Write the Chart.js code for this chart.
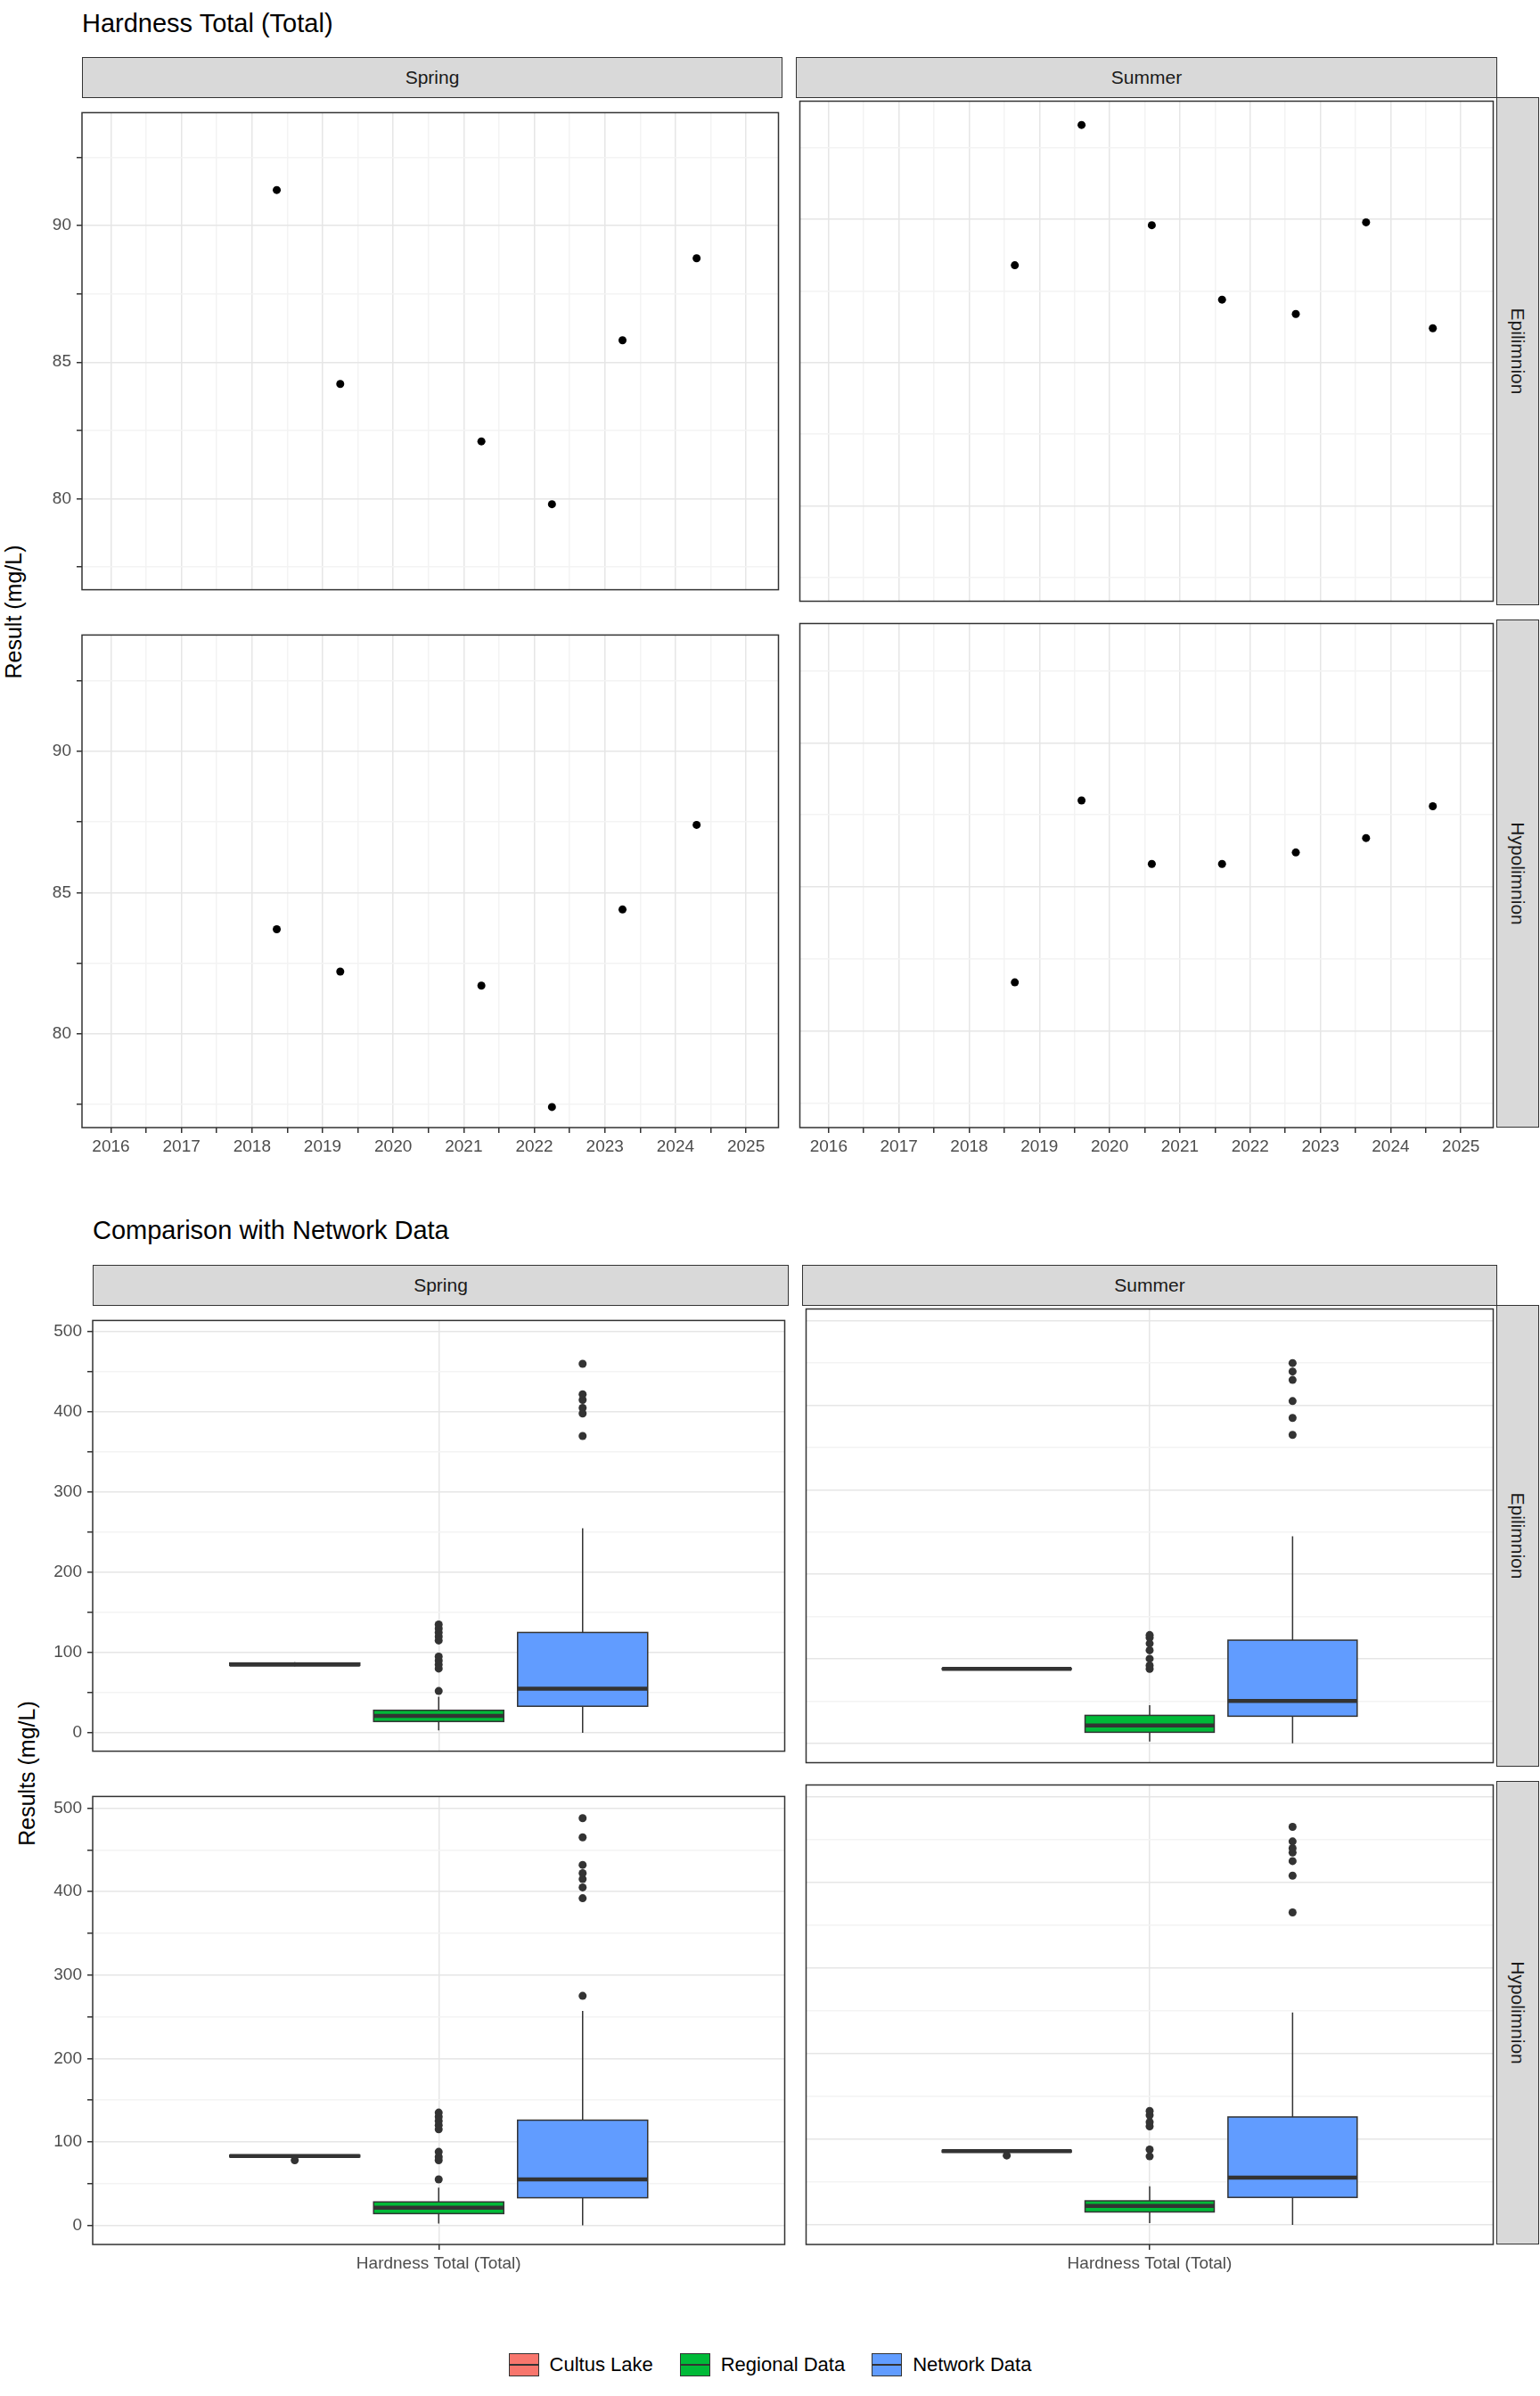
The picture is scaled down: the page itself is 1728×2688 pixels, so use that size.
<!DOCTYPE html>
<html><head><meta charset="utf-8">
<script src="https://cdn.jsdelivr.net/npm/chart.js@4"></script>
<style>
body{margin:0;background:#fff;font-family:"Liberation Sans",Arial,sans-serif;}
#root{position:relative;width:1728px;height:2688px;}
.abs{position:absolute;}
.strip{position:absolute;background:#D9D9D9;border:1.5px solid #333;box-sizing:border-box;display:flex;align-items:center;justify-content:center;font-size:21px;color:#1a1a1a;}
.t{position:absolute;font-size:29px;color:#000;}
.yl{position:absolute;font-size:25px;transform:rotate(-90deg);transform-origin:center;white-space:nowrap;}
</style></head><body><div id="root"></div>
<script>
// ---------- Data ----------
const seasons = ["Spring","Summer"];
const layers = ["Epilimnion","Hypolimnion"];
const yearTicks = [2016,2017,2018,2019,2020,2021,2022,2023,2024,2025];
const springEpiX = [2018.35,2019.25,2021.25,2022.25,2023.25,2024.3];
const springEpiY = [91.3,84.2,82.1,79.8,85.8,88.8];
const summerEpiX = [2018.65,2019.6,2020.6,2021.6,2022.65,2023.65,2024.6];
const summerEpiY = [88.4,93.3,89.8,87.2,86.7,89.9,86.2];
const springHypoX = [2018.35,2019.25,2021.25,2022.25,2023.25,2024.3];
const springHypoY = [83.7,82.2,81.7,77.4,84.4,87.4];
const summerHypoX = [2018.65,2019.6,2020.6,2021.6,2022.65,2023.65,2024.6];
const summerHypoY = [81.7,88.0,85.8,85.8,86.2,86.7,87.8];

const groups = ["Cultus Lake","Regional Data","Network Data"];
const groupColors = ["#F8766D","#00BA38","#619CFF"];
// box stats: [whiskerLow, q1, median, q3, whiskerHigh]
const springEpiBox = [[83,84,85,87,88],[3,14,21,28,45],[0,33,55,125,255]];
const springEpiOut = [[],[52,80,85,90,95,115,120,125,130,135],[370,398,405,415,422,460]];
const summerEpiBox = [[87,87.5,88,88.5,89],[2,13,21,33,45],[0,32,50,122,245]];
const summerEpiOut = [[],[88,92,100,110,118,125,128],[365,385,405,430,440,450]];
const springHypoBox = [[81,82,83,84,85],[2,14,21,28,45],[0,33,55,126,257]];
const springHypoOut = [[78],[55,78,82,88,115,120,125,130,135],[275,392,405,415,422,432,465,488]];
const summerHypoBox = [[84,85,86,87,87],[2,15,22,28,45],[0,32,55,126,248]];
const summerHypoOut = [[81],[80,88,115,120,128,133],[365,408,425,435,440,448,465]];
const boxCategory = "Hardness Total (Total)";

// ---------- Layout ----------
const root = document.getElementById('root');
function el(cls, css, txt){const d=document.createElement('div');d.className=cls;Object.assign(d.style,css);if(txt!==undefined)d.textContent=txt;root.appendChild(d);return d;}
const tickFont = {family:"Liberation Sans", size:19};
const borderPlugin = {id:'bord', afterDraw(c){const a=c.chartArea,x=c.ctx;x.save();x.strokeStyle='#333';x.lineWidth=1.5;x.strokeRect(a.left,a.top,a.right-a.left,a.bottom-a.top);x.restore();}};

function panel(left, top, w, h, showY, showX, cfgFn){
  const yW = showY?62:0, xH = showX?40:0;
  const d = el('abs',{left:(left-yW)+'px',top:top+'px',width:(w+yW)+'px',height:(h+xH)+'px'});
  const cv = document.createElement('canvas'); cv.width=w+yW; cv.height=h+xH; d.appendChild(cv);
  const cfg = cfgFn(showY, showX, yW, xH);
  cfg.options.responsive=false; cfg.options.animation=false; cfg.options.devicePixelRatio=1;
  cfg.options.layout={padding:0};
  cfg.options.plugins=Object.assign({legend:{display:false},tooltip:{enabled:false}},cfg.options.plugins||{});
  cfg.plugins=(cfg.plugins||[]).concat([borderPlugin]);
  new Chart(cv,cfg);
}
function yScale(min,max,step,major,showY,yW,extra){
  return Object.assign({type:'linear',min,max,
    afterBuildTicks(s){const t=[];for(let v=Math.ceil(min/step)*step;v<=max+1e-9;v+=step)t.push({value:+v.toFixed(4)});s.ticks=t;},
    afterFit(s){s.width=yW;},
    ticks:{display:showY,font:tickFont,color:'#4D4D4D',padding:6,callback:(v)=>Math.abs(v/major-Math.round(v/major))<1e-6?v:''},
    grid:{color:(c)=>Math.abs(c.tick.value/major-Math.round(c.tick.value/major))<1e-6?'#E6E6E6':'#F3F3F3',lineWidth:1.5,tickLength:showY?6:0,tickColor:'#333'},
    border:{display:false}},extra||{});
}

// ---------- Top chart ----------
el('t',{left:'92px',top:'10px'},'Hardness Total (Total)');
el('yl',{left:'-90px',top:'672px',width:'210px',textAlign:'center'},'Result (mg/L)');
const topCols=[[92,786],[893,787]], topRows=[[109,570],[695,570]];
const topData=[[[springEpiX,springEpiY],[summerEpiX,summerEpiY]],[[springHypoX,springHypoY],[summerHypoX,summerHypoY]]];
seasons.forEach((s,i)=>el('strip',{left:topCols[i][0]+'px',top:'64px',width:topCols[i][1]+'px',height:'46px'},s));
layers.forEach((l,j)=>{const st=el('strip',{left:'1679px',top:topRows[j][0]+'px',width:'48px',height:topRows[j][1]+'px'});st.innerHTML='<span style="transform:rotate(90deg);white-space:nowrap">'+l+'</span>';});
for(let r=0;r<2;r++)for(let c=0;c<2;c++){
  const [xs,ys]=topData[r][c];
  panel(topCols[c][0],topRows[r][0],topCols[c][1],topRows[r][1],c===0,r===1,(sy,sx,yW,xH)=>({
    type:'scatter',
    data:{datasets:[{data:xs.map((x,k)=>({x,y:ys[k]})),pointRadius:4.5,backgroundColor:'#000',borderWidth:0}]},
    options:{scales:{
      x:{type:'linear',min:2015.59,max:2025.46,
        afterBuildTicks(s){const t=[];for(let v=2015.5;v<=2025.5;v+=0.5)if(v>=2015.59&&v<=2025.46)t.push({value:v});s.ticks=t;},
        afterFit(s){s.height=xH;},
        ticks:{display:sx,font:tickFont,color:'#4D4D4D',padding:4,maxRotation:0,autoSkip:false,callback:(v)=>yearTicks.includes(v)?String(v):''},
        grid:{color:(c)=>Number.isInteger(c.tick.value)?'#E6E6E6':'#F3F3F3',lineWidth:1.5,tickLength:sx?6:0,tickColor:'#333'},border:{display:false}},
      y:yScale(76.67,94.13,2.5,5,sy,yW)}}
  }));
}

// ---------- Bottom chart ----------
el('t',{left:'104px',top:'1364px'},'Comparison with Network Data');
el('yl',{left:'-80px',top:'1975px',width:'220px',textAlign:'center'},'Results (mg/L)');
const botCols=[[104,781],[900,780]], botRows=[[1464,518],[1998,520]];
const botData=[[[springEpiBox,springEpiOut],[summerEpiBox,summerEpiOut]],[[springHypoBox,springHypoOut],[summerHypoBox,summerHypoOut]]];
seasons.forEach((s,i)=>el('strip',{left:botCols[i][0]+'px',top:'1419px',width:botCols[i][1]+'px',height:'46px'},s));
layers.forEach((l,j)=>{const st=el('strip',{left:'1679px',top:botRows[j][0]+'px',width:'48px',height:botRows[j][1]+'px'});st.innerHTML='<span style="transform:rotate(90deg);white-space:nowrap">'+l+'</span>';});
const offsets=[-0.208,0,0.208], halfW=0.094;
const boxPlugin={id:'box',beforeDatasetsDraw(c){
  const stats=c.config.options.plugins.box.stats, X=c.scales.x, Y=c.scales.y, ctx=c.ctx;
  stats.forEach((b,g)=>{
    const cx=X.getPixelForValue(0.5+offsets[g]), x0=X.getPixelForValue(0.5+offsets[g]-halfW), x1=X.getPixelForValue(0.5+offsets[g]+halfW);
    const p=b.map(v=>Y.getPixelForValue(v));
    ctx.save();ctx.strokeStyle='#333';ctx.lineWidth=1.5;
    ctx.beginPath();ctx.moveTo(cx,p[0]);ctx.lineTo(cx,p[1]);ctx.moveTo(cx,p[3]);ctx.lineTo(cx,p[4]);ctx.stroke();
    ctx.fillStyle=groupColors[g];ctx.fillRect(x0,p[3],x1-x0,p[1]-p[3]);ctx.strokeRect(x0,p[3],x1-x0,p[1]-p[3]);
    ctx.lineWidth=4.5;ctx.beginPath();ctx.moveTo(x0,p[2]);ctx.lineTo(x1,p[2]);ctx.stroke();ctx.restore();
  });
}};
for(let r=0;r<2;r++)for(let c=0;c<2;c++){
  const [bx,out]=botData[r][c];
  const pts=[];out.forEach((o,g)=>o.forEach(v=>pts.push({x:0.5+offsets[g],y:v})));
  panel(botCols[c][0],botRows[r][0],botCols[c][1],botRows[r][1],c===0,r===1,(sy,sx,yW,xH)=>({
    type:'scatter',
    data:{datasets:[{data:pts,pointRadius:4.5,backgroundColor:'#333',borderWidth:0}]},
    options:{plugins:{box:{stats:bx}},scales:{
      x:{type:'linear',min:0,max:1,afterBuildTicks(s){s.ticks=[{value:0.5}];},afterFit(s){s.height=xH;},
        ticks:{display:sx,font:tickFont,color:'#4D4D4D',padding:4,maxRotation:0,callback:()=>boxCategory},
        grid:{color:'#E6E6E6',lineWidth:1.5,tickLength:sx?6:0,tickColor:'#333'},border:{display:false}},
      y:yScale(-23,514,50,100,sy,yW)}},
    plugins:[boxPlugin]
  }));
}
// legend
const lg=el('abs',{left:'0',top:'2640px',width:'1728px',display:'flex',justifyContent:'center',gap:'30px',fontSize:'22px'});
groups.forEach((g,i)=>{const it=document.createElement('div');it.style.cssText='display:flex;align-items:center;gap:12px';
 it.innerHTML='<span style="display:inline-block;width:34px;height:26px;background:'+groupColors[i]+';border:1.5px solid #333;box-sizing:border-box;position:relative"><span style="position:absolute;left:0;right:0;top:11px;height:2px;background:#333"></span></span><span>'+g+'</span>';lg.appendChild(it);});
</script></body></html>
